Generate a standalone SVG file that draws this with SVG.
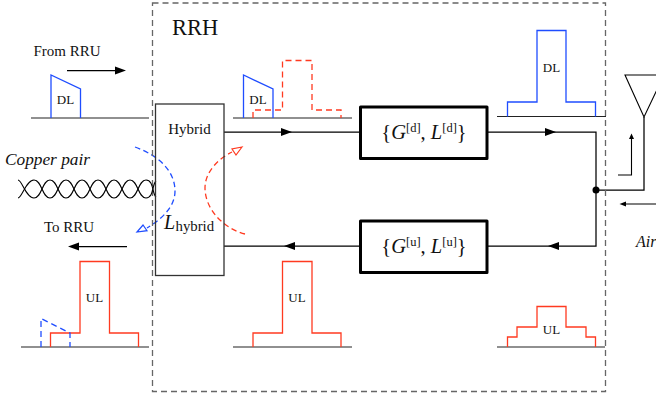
<svg xmlns="http://www.w3.org/2000/svg" width="656" height="397" viewBox="0 0 656 397">
<style>
text{font-family:"Liberation Serif","Times New Roman",serif;fill:#111}
.l{fill:none;stroke:#000;stroke-width:1.25}
.ax{fill:none;stroke:#222;stroke-width:1.2}
.b{fill:none;stroke:#1f4dff;stroke-width:1.3}
.r{fill:none;stroke:#ff3a20;stroke-width:1.3}
.bd{stroke-dasharray:5.500 3.500}
.blk{fill:#fff;stroke:#000;stroke-width:3;stroke-linejoin:round}
.s{font-size:13px;text-anchor:middle}
.m{font-size:15px;text-anchor:middle}
.i{font-style:italic}
</style>
<defs>
<path id="ah" d="M0 0L-11 -4V4Z" fill="#000"/>
</defs>
<g id="connectors">
<path class="l" d="M224 132H360.500M487 132H596V246H487M360.500 246H224"/>
<path class="l" d="M596 190H644V117"/>
<use href="#ah" transform="translate(292 132)"/>
<use href="#ah" transform="translate(556 132)"/>
<use href="#ah" transform="translate(284 246) rotate(180)"/>
<use href="#ah" transform="translate(548 246) rotate(180)"/>
<circle cx="596" cy="190" r="3.500" fill="#000"/>
<path class="l" d="M67 70.500H116"/><use href="#ah" transform="translate(126 70.500)"/>
<path class="l" d="M127 246.500H78"/><use href="#ah" transform="translate(68 246.500) rotate(180)"/>
<path d="M618 175H631.500V136" fill="none" stroke="#000" stroke-width="1.100"/>
<path d="M631.500 133.500L629 139H634Z" fill="#000"/>
<path d="M656 204H622" fill="none" stroke="#000" stroke-width="1.100"/>
<path d="M619.500 204L626 201.500V206.500Z" fill="#000"/>
<path class="b bd" d="M135 147C160 156 175 172 175 191C175 208 160 220 147 228"/>
<path d="M137 232L143 225L147 230.700Z" fill="#fff" stroke="#1f4dff" stroke-width="1.200"/>
<path class="r bd" d="M245 234C222 228 205 208 205 188C205 172 218 159 232 152"/>
<path d="M242 147L232 149L236 155Z" fill="#fff" stroke="#ff3a20" stroke-width="1.200"/>
</g>
<g id="rrh"><rect x="152.500" y="3" width="453" height="388.500" fill="none" stroke="#666" stroke-width="1.300" stroke-dasharray="6 4"/>
<text x="172" y="35" font-size="22.500">RRH</text></g>
<g id="copper-pair">
<text class="i" x="5" y="165" font-size="17.300">Copper pair</text>
<path d="M18 180C22 180 26 198 34 198S42 180 50 180S58 198 66 198S74 180 82 180S90 198 98 198S106 180 114 180S122 198 130 198S138 180 146 180S152 194 156 197" fill="none" stroke="#000" stroke-width="1.100"/>
<path d="M18 198C22 198 26 180 34 180S42 198 50 198S58 180 66 180S74 198 82 198S90 180 98 180S106 198 114 198S122 180 130 180S138 198 146 198S152 184 156 181" fill="none" stroke="#000" stroke-width="1.100"/>
</g>
<g id="hybrid">
<rect x="155.500" y="104" width="68.500" height="171.500" fill="none" stroke="#333" stroke-width="1.300"/>
<text class="m" x="189.500" y="134">Hybrid</text>
<text x="164" y="229" font-size="20" font-style="italic">L</text>
<text x="175.500" y="231" font-size="14.800">hybrid</text>
</g>
<g id="from-rru">
<text class="m" x="67" y="56">From RRU</text>
<path class="ax" d="M31 118H149"/>
<path class="b" d="M51 118V75L80.500 89V118"/>
<text class="s" x="65.500" y="104">DL</text>
</g>
<g id="to-rru">
<text class="m" x="69" y="232">To RRU</text>
<path class="ax" d="M21 347H149"/>
<path class="r" d="M50.500 347V333H80V261.500H109.500V333H138.500V347"/>
<path class="b" stroke-dasharray="6 4" d="M41 347V318.500L70 333V347"/>
<text class="s" x="94.500" y="302">UL</text>
</g>
<g id="spectrum-dl-mid">
<path class="ax" d="M233 118H352"/>
<path class="b" d="M243.500 118V75L273 89V118"/>
<path class="r" stroke-dasharray="6 4" d="M253 118V110H282.500V60.500H312V110H341V118"/>
<text class="s" x="258" y="104">DL</text>
</g>
<g id="gain-dl">
<rect class="blk" x="360.500" y="107" width="126.500" height="51.500"/>
<text x="424" y="139" font-size="20.500" text-anchor="middle">{<tspan font-style="italic">G</tspan><tspan font-size="12.500" dy="-7">[d]</tspan><tspan dy="7">, </tspan><tspan font-style="italic">L</tspan><tspan font-size="12.500" dy="-7">[d]</tspan><tspan dy="7">}</tspan></text>
</g>
<g id="gain-ul">
<rect class="blk" x="360.500" y="221" width="126.500" height="51.500"/>
<text x="424" y="253" font-size="20.500" text-anchor="middle">{<tspan font-style="italic">G</tspan><tspan font-size="12.500" dy="-7">[u]</tspan><tspan dy="7">, </tspan><tspan font-style="italic">L</tspan><tspan font-size="12.500" dy="-7">[u]</tspan><tspan dy="7">}</tspan></text>
</g>
<g id="spectrum-dl-right">
<path class="ax" d="M497 116.500H606"/>
<path class="b" d="M507.500 116.500V102H537V30.500H566V102H595.500V116.500"/>
<text class="s" x="551.500" y="72">DL</text>
</g>
<g id="spectrum-ul-mid">
<path class="ax" d="M233 347H352"/>
<path class="r" d="M253 347V333H282.500V261.500H312V333H341V347"/>
<text class="s" x="297" y="302">UL</text>
</g>
<g id="spectrum-ul-right">
<path class="ax" d="M497 347H605"/>
<path class="r" d="M507.500 347V337H517V327H537V306.500H566V327H586V337H595.500V347"/>
<text class="s" x="551.500" y="334">UL</text>
</g>
<g id="antenna">
<path d="M625 75H664L644 117Z" fill="none" stroke="#000" stroke-width="1.100"/>
<text class="i" x="636" y="247" font-size="16">Air</text>
</g>
</svg>
